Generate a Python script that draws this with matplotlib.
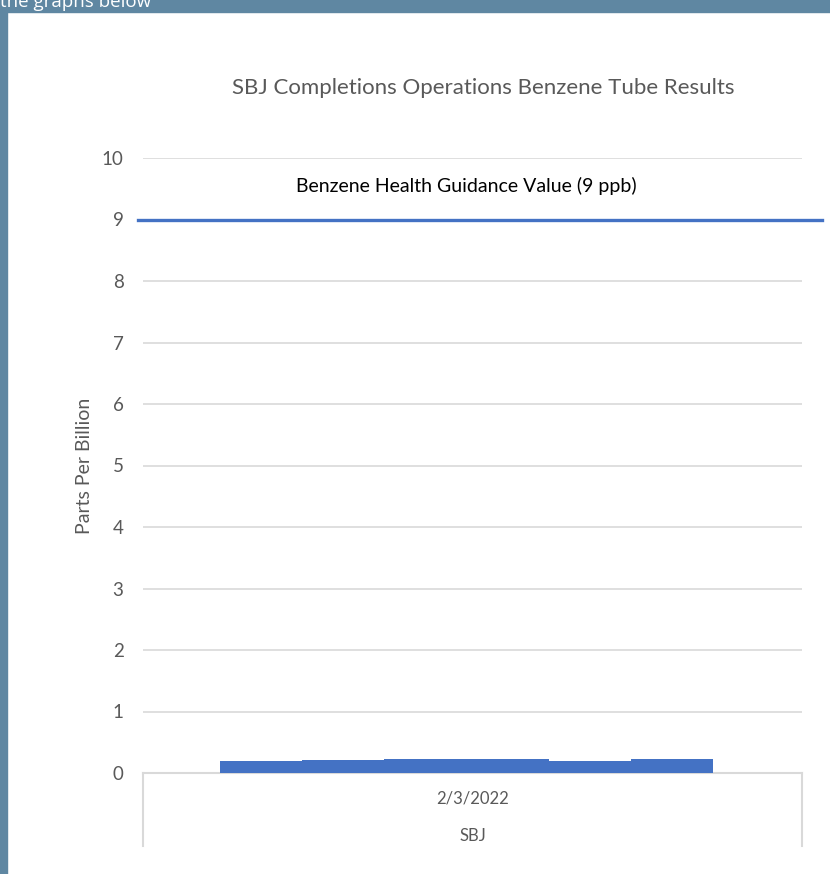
import matplotlib
matplotlib.use("Agg")
import matplotlib.pyplot as plt
from matplotlib.patches import Rectangle

plt.rcParams['font.family'] = ['Lato', 'DejaVu Sans']

# sample values (ppb) for the six tubes
samples = [1, 2, 3, 4, 5, 6]
values = [0.19, 0.21, 0.23, 0.22, 0.20, 0.23]
guidance = 9
date_label = "2/3/2022"
site_label = "SBJ"
yticks = list(range(0, 11))

title = "SBJ Completions Operations Benzene Tube Results"
guide_text = "Benzene Health Guidance Value (9 ppb)"

bar_color = "#4472C4"
grid_color = "#D9D9D9"
text_color = "#595959"
frame_color = "#5F87A2"

fig = plt.figure(figsize=(8.3, 8.74), dpi=100)
fig.patch.set_facecolor("white")

# blue frame round the page area
fig.patches.append(Rectangle((0, 0), 7/830, 1, transform=fig.transFigure,
                             color=frame_color, zorder=0))
fig.patches.append(Rectangle((0, 1 - 12/874), 1, 12/874, transform=fig.transFigure,
                             color=frame_color, zorder=0))
fig.text(0.0, 1 - 7/874, "the graphs below", color="white", fontsize=13.5,
         ha="left", va="baseline", family=["Open Sans", "DejaVu Sans"])

ax = fig.add_axes([143/830, 1 - 773/874, (802 - 143)/830, (773 - 158)/874])

xpos = [i - 1 for i in samples]
ax.bar(xpos, values, width=1.0, color=bar_color, zorder=3)

ax.set_xlim(-1.437, 6.583)
ax.set_ylim(0, 10)
ax.set_yticks(yticks)
ax.set_yticklabels([str(v) for v in yticks], color=text_color, fontsize=13.5)
ax.tick_params(axis="y", length=0, pad=14)
ax.set_xticks([])
ax.grid(axis="y", color=grid_color, linewidth=1.2, zorder=0)

for s in ["top", "right", "left"]:
    ax.spines[s].set_visible(False)
ax.spines["bottom"].set_color(grid_color)
ax.spines["bottom"].set_linewidth(1.5)

# guidance line, runs a bit past the plot area
ax.plot([-1.498, 6.826], [guidance, guidance], color=bar_color, linewidth=2.4,
        clip_on=False, zorder=4)
ax.text(2.5, guidance + 0.55, guide_text, ha="center", va="center",
        fontsize=14, color="black")

# category axis box
for xv in (0, 1):
    ax.plot([xv, xv], [0, -0.119], transform=ax.transAxes, color=grid_color,
            linewidth=1.5, clip_on=False)
ax.text(0.5, -25/615, date_label, transform=ax.transAxes, ha="center",
        va="center", fontsize=12, color=text_color)
ax.text(0.5, -63/615, site_label, transform=ax.transAxes, ha="center",
        va="center", fontsize=12, color=text_color)

ax.set_ylabel("Parts Per Billion", color=text_color, fontsize=14, labelpad=6)

fig.text(483/830, 1 - 88/874, title, ha="center", va="center",
         fontsize=16, color=text_color)

fig.savefig("out.png", dpi=100)
